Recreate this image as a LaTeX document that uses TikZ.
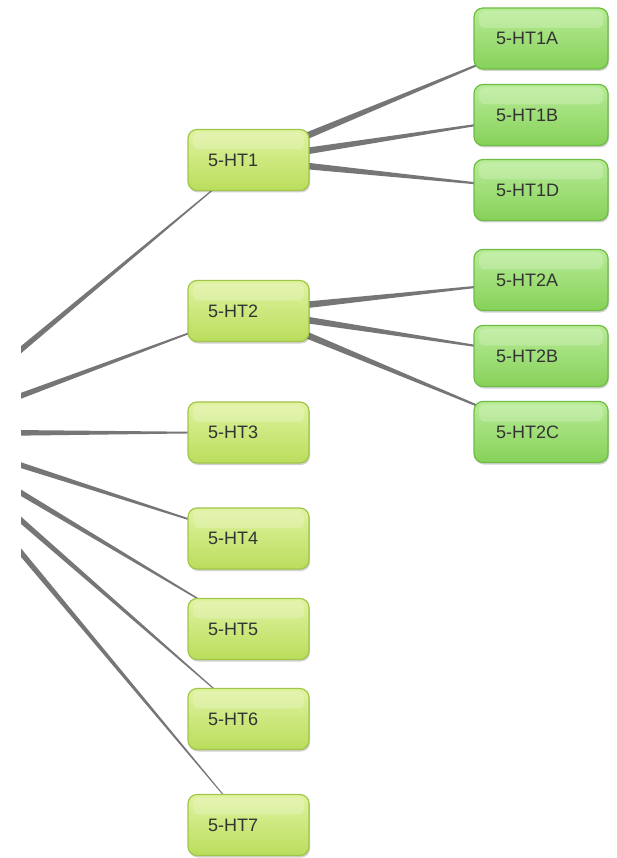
\documentclass[tikz,border=0pt]{standalone}
\usepackage{fontspec}
\setmainfont{Liberation Sans}
\usetikzlibrary{calc,shadows}
\pgfdeclarelayer{back}
\pgfdeclarelayer{bg}
\pgfsetlayers{back,bg,main}
\definecolor{lineg}{HTML}{767676}
\definecolor{ygtop}{HTML}{E0F3A0}
\definecolor{ygbot}{HTML}{BADD5C}
\definecolor{ygbrd}{HTML}{A0C64A}
\definecolor{gtop}{HTML}{B8EC96}
\definecolor{gbot}{HTML}{86D15A}
\definecolor{gbrd}{HTML}{6DBD44}
\definecolor{txt}{HTML}{333333}
\tikzset{
  basebox/.style={rounded corners=9pt, line width=1.2pt, minimum height=61pt,
    align=left, text=txt, font=\fontsize{18}{20}\selectfont,
    drop shadow={shadow xshift=1pt, shadow yshift=-2pt, opacity=0.18, fill=black},
    path picture={\fill[white, opacity=0.2, rounded corners=6pt]
      ([xshift=5pt,yshift=-3pt]path picture bounding box.north west) rectangle
      ([xshift=-5pt,yshift=-20pt]path picture bounding box.north east);}},
  lvone/.style={basebox, draw=ygbrd, top color=ygtop, bottom color=ygbot,
    inner xsep=20pt, text width=81pt},
  lvtwo/.style={basebox, draw=gbrd, top color=gtop, bottom color=gbot,
    inner xsep=22pt, text width=90pt},
  conn/.style={fill=lineg}
}
\newcommand\taperline[4]{%
  \fill[conn] ($(#1.center)!#3!90:(#2.center)$) -- ($(#2.center)!#4!-90:(#1.center)$)
   -- ($(#2.center)!#4!90:(#1.center)$) -- ($(#1.center)!#3!-90:(#2.center)$) -- cycle;}
\begin{document}
\begin{tikzpicture}[x=1pt,y=-1pt]
\useasboundingbox (0,0) rectangle (617,858);
\begin{pgfonlayer}{back}
\fill[white] (0,0) rectangle (617,858);
\end{pgfonlayer}
\coordinate (root) at (-79,433);
\node[lvone] (h1) at (248.5,160) {5-HT1};
\node[lvone] (h2) at (248.5,311) {5-HT2};
\node[lvone] (h3) at (248.5,432.5) {5-HT3};
\node[lvone] (h4) at (248.5,538.5) {5-HT4};
\node[lvone] (h5) at (248.5,629) {5-HT5};
\node[lvone] (h6) at (248.5,719) {5-HT6};
\node[lvone] (h7) at (248.5,825) {5-HT7};
\node[lvtwo] (h1a) at (541,38.5) {5-HT1A};
\node[lvtwo] (h1b) at (541,115) {5-HT1B};
\node[lvtwo] (h1d) at (541,190) {5-HT1D};
\node[lvtwo] (h2a) at (541,280) {5-HT2A};
\node[lvtwo] (h2b) at (541,356) {5-HT2B};
\node[lvtwo] (h2c) at (541,432) {5-HT2C};
\begin{pgfonlayer}{bg}
\begin{scope}
\clip (21,0) rectangle (617,858);
\foreach \t in {h1,h2,h3,h4,h5,h6,h7}{\taperline{root}{\t}{3.9pt}{0.2pt}}
\end{scope}
\foreach \t in {h1a,h1b,h1d}{\taperline{h1}{\t}{4.1pt}{0.15pt}}
\foreach \t in {h2a,h2b,h2c}{\taperline{h2}{\t}{4.1pt}{0.15pt}}
\end{pgfonlayer}
\end{tikzpicture}
\end{document}
